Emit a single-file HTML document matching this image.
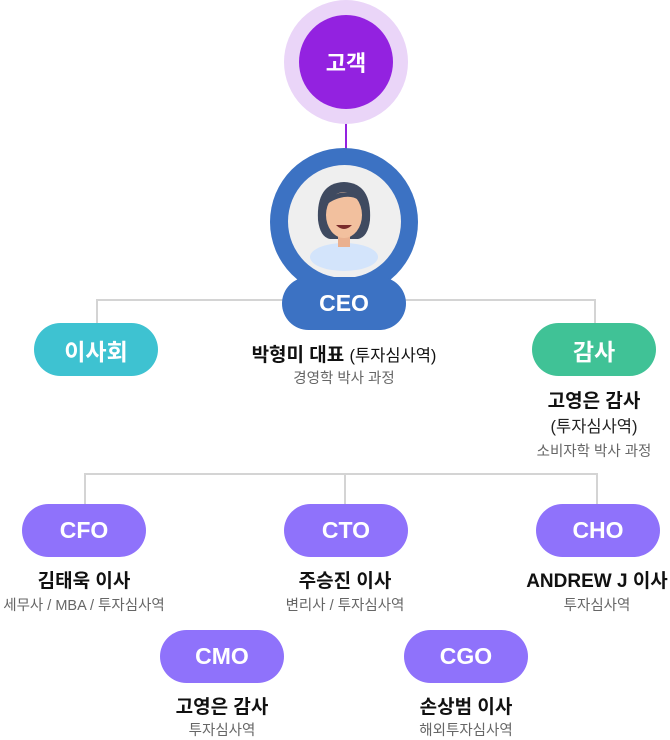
<!DOCTYPE html>
<html><head><meta charset="utf-8"><style>
body{margin:0;width:670px;height:737px;background:#fff;position:relative;overflow:hidden;font-family:"Liberation Sans","Noto Sans CJK KR",sans-serif}
.a{position:absolute}
.pill{position:absolute;width:124px;height:53px;border-radius:27px;color:#fff;font-weight:bold;font-size:23px;display:flex;align-items:center;justify-content:center}
.p{background:#8f72fb}
.t{position:absolute;text-align:center;white-space:nowrap;transform:translateX(-50%)}
.n{font-weight:bold;font-size:19px;color:#111}
.s{font-size:14.5px;color:#666}
.l{position:absolute;background:#d4d4d4}
</style></head><body>
<div class="l" style="left:97px;top:299px;width:499px;height:2px"></div>
<div class="l" style="left:96px;top:299px;width:2px;height:25px"></div>
<div class="l" style="left:594px;top:299px;width:2px;height:25px"></div>
<div class="l" style="left:84px;top:473px;width:514px;height:2px"></div>
<div class="l" style="left:84px;top:473px;width:2px;height:32px"></div>
<div class="l" style="left:344px;top:473px;width:2px;height:32px"></div>
<div class="l" style="left:596px;top:473px;width:2px;height:32px"></div>
<div class="a" style="left:345px;top:105px;width:2px;height:48px;background:#9322e0"></div>
<div class="a" style="left:284px;top:0;width:124px;height:124px;border-radius:50%;background:#ead5f8"></div>
<div class="a" style="left:299px;top:15px;width:94px;height:94px;border-radius:50%;background:#9322e0;color:#fff;font-weight:bold;font-size:22px;display:flex;align-items:center;justify-content:center">고객</div>
<div class="a" style="left:270px;top:148px;width:148px;height:148px;border-radius:50%;background:#3c72c3"></div>
<div class="a" style="left:288px;top:165px;width:113px;height:113px;border-radius:50%;background:#efefef;overflow:hidden">
<svg width="113" height="113" viewBox="0 0 113 113">
<ellipse cx="56" cy="92" rx="34" ry="14" fill="#d3e4fb"/>
<path d="M30 55 Q28 18 56 17 Q84 18 82 55 Q80 72 70 74 L42 74 Q32 72 30 55Z" fill="#3f4a60"/>
<rect x="50" y="62" width="12" height="20" fill="#eab08f"/>
<ellipse cx="56" cy="50" rx="18" ry="23" fill="#f2c09e"/>
<path d="M36 42 Q44 24 66 28 Q74 32 76 44 Q72 30 56 32 Q44 34 36 42Z" fill="#3f4a60"/>
<path d="M48 60 Q56 68 64 60Z" fill="#7a2b2b"/>
</svg></div>
<div class="pill" style="left:282px;top:277px;background:#3c72c3">CEO</div>
<div class="pill" style="left:34px;top:323px;background:#3ec2d1">이사회</div>
<div class="pill" style="left:532px;top:323px;background:#40c296">감사</div>
<div class="t" style="left:344px;top:340px;font-size:19px;color:#111"><b>박형미 대표</b> <span style="font-size:16.5px">(투자심사역)</span></div>
<div class="t s" style="left:344px;top:367px">경영학 박사 과정</div>
<div class="t n" style="left:594px;top:386px">고영은 감사</div>
<div class="t" style="left:594px;top:413px;font-size:16.5px;color:#222">(투자심사역)</div>
<div class="t s" style="left:594px;top:440px">소비자학 박사 과정</div>
<div class="pill p" style="left:22px;top:504px">CFO</div>
<div class="pill p" style="left:284px;top:504px">CTO</div>
<div class="pill p" style="left:536px;top:504px">CHO</div>
<div class="t n" style="left:84px;top:566px">김태욱 이사</div>
<div class="t s" style="left:84px;top:594px">세무사 / MBA / 투자심사역</div>
<div class="t n" style="left:345px;top:566px">주승진 이사</div>
<div class="t s" style="left:345px;top:594px">변리사 / 투자심사역</div>
<div class="t n" style="left:597px;top:566px">ANDREW J 이사</div>
<div class="t s" style="left:597px;top:594px">투자심사역</div>
<div class="pill p" style="left:160px;top:630px">CMO</div>
<div class="pill p" style="left:404px;top:630px">CGO</div>
<div class="t n" style="left:222px;top:692px">고영은 감사</div>
<div class="t s" style="left:222px;top:719px">투자심사역</div>
<div class="t n" style="left:466px;top:692px">손상범 이사</div>
<div class="t s" style="left:466px;top:719px">해외투자심사역</div>
</body></html>
